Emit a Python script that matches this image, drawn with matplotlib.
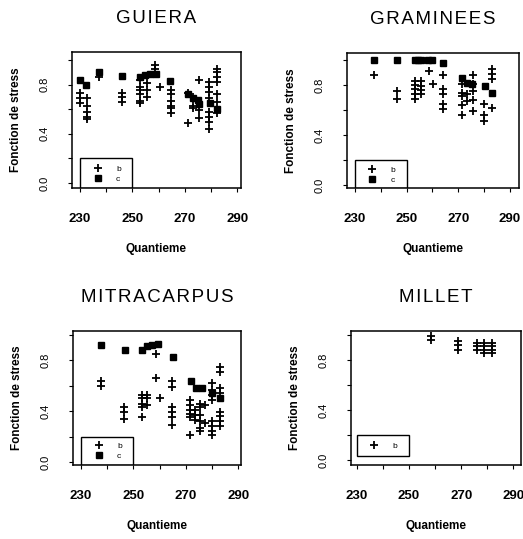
import matplotlib
matplotlib.use("Agg")
import matplotlib.pyplot as plt
from matplotlib.lines import Line2D
from matplotlib.patches import Rectangle

plt.rcParams['font.family'] = ['Liberation Sans', 'DejaVu Sans']

# --- GUIERA ---
guiera_b_x = [230, 230, 230, 232.5, 232.5, 232.5, 232.5, 232.5, 237.3,
              246, 246, 246, 253, 253, 253, 253, 253, 253,
              255.6, 255.6, 255.6, 258.5, 258.5, 260.6,
              264.8, 264.8, 264.8, 264.8, 264.8, 264.8,
              271.4, 271.4, 273.3, 273.3, 273.3, 275.5, 275.5, 275.5,
              279.3, 279.3, 279.3, 279.3, 279.3, 279.3, 279.3, 279.3,
              282.2, 282.2, 282.2, 282.2, 282.2, 282.2, 282.2]
guiera_b_y = [0.73, 0.69, 0.65, 0.69, 0.63, 0.58, 0.54, 0.52, 0.86,
              0.73, 0.70, 0.66, 0.84, 0.78, 0.76, 0.72, 0.67, 0.65,
              0.81, 0.76, 0.70, 0.96, 0.93, 0.78,
              0.76, 0.72, 0.67, 0.63, 0.61, 0.57,
              0.73, 0.49, 0.70, 0.63, 0.61, 0.84, 0.59, 0.53,
              0.82, 0.78, 0.74, 0.69, 0.58, 0.54, 0.50, 0.44,
              0.93, 0.90, 0.86, 0.82, 0.72, 0.66, 0.57]
guiera_c_x = [230, 232.3, 237.3, 246, 252.9, 254.8, 256.7, 259, 264.4,
              271.4, 273.3, 275.2, 275.5, 279.7, 282.2]
guiera_c_y = [0.84, 0.80, 0.90, 0.87, 0.86, 0.88, 0.89, 0.89, 0.83,
              0.72, 0.69, 0.675, 0.64, 0.65, 0.60]

# --- GRAMINEES ---
gram_b_x = [237.5, 246.4, 246.4, 253.3, 253.3, 253.3, 253.3, 253.3,
            255.6, 255.6, 255.6, 255.6, 258.7, 260.3,
            264.2, 264.2, 264.2, 264.2, 264.2,
            271.4, 271.4, 271.4, 271.4, 271.4, 273.3, 273.3,
            275.9, 275.9, 275.9, 275.9, 275.9, 280.1, 280.1, 280.1,
            283, 283, 283, 283]
gram_b_y = [0.88, 0.75, 0.69, 0.83, 0.80, 0.77, 0.73, 0.69,
            0.83, 0.79, 0.76, 0.73, 0.91, 0.81,
            0.88, 0.77, 0.73, 0.65, 0.61,
            0.81, 0.74, 0.71, 0.64, 0.56, 0.73, 0.67,
            0.88, 0.81, 0.75, 0.68, 0.59, 0.65, 0.56, 0.51,
            0.93, 0.89, 0.85, 0.62]
gram_c_x = [237.5, 246.4, 253.3, 254.4, 255.6, 258.3, 259.8, 264.2,
            271.4, 273.3, 275.2, 280.4, 283]
gram_c_y = [1.0, 1.0, 1.0, 1.0, 1.0, 1.0, 1.0, 0.98,
            0.86, 0.82, 0.81, 0.79, 0.74]

# --- MITRACARPUS ---
mitra_b_x = [237.6, 237.6, 246.5, 246.5, 246.5,
             253.2, 253.2, 253.2, 253.2, 253.2, 255.3, 255.3, 255.3,
             258.7, 258.7, 260.3,
             264.7, 264.7, 264.7, 264.7, 264.7, 264.7,
             271.7, 271.7, 271.7, 271.7, 271.7, 271.7,
             273.6, 273.6, 273.6,
             275.5, 275.5, 275.5, 275.5, 275.5, 275.5, 277.4, 277.4,
             279.9, 279.9, 279.9, 279.9, 279.9, 279.9, 279.9, 279.9,
             283.1, 283.1, 283.1, 283.1, 283.1, 283.1, 283.1, 283.1]
mitra_b_y = [0.64, 0.60, 0.43, 0.39, 0.34,
             0.53, 0.50, 0.46, 0.43, 0.35, 0.53, 0.50, 0.45,
             0.85, 0.66, 0.50,
             0.64, 0.59, 0.43, 0.39, 0.35, 0.29,
             0.49, 0.45, 0.41, 0.38, 0.35, 0.21,
             0.41, 0.37, 0.33,
             0.46, 0.43, 0.37, 0.32, 0.27, 0.24, 0.45, 0.31,
             0.62, 0.57, 0.53, 0.49, 0.32, 0.28, 0.24, 0.21,
             0.75, 0.71, 0.58, 0.54, 0.39, 0.36, 0.32, 0.28]
mitra_c_x = [237.6, 246.6, 253.2, 255.1, 257, 259.2, 265,
             271.9, 273.9, 276.1, 280, 283.1]
mitra_c_y = [0.92, 0.88, 0.88, 0.91, 0.92, 0.93, 0.83,
             0.64, 0.58, 0.58, 0.54, 0.50]

# --- MILLET ---
millet_b_x = [258.5, 258.5, 268.7, 268.7, 268.7,
              276, 276, 276, 278.9, 278.9, 278.9, 278.9,
              281.7, 281.7, 281.7, 281.7]
millet_b_y = [0.99, 0.96, 0.95, 0.92, 0.88,
              0.94, 0.91, 0.88, 0.94, 0.91, 0.88, 0.86,
              0.94, 0.91, 0.88, 0.86]
millet_c_x = []
millet_c_y = []

x_ticks = [230, 240, 250, 260, 270, 280, 290]
x_labels = ['230', '', '250', '', '270', '', '290']
y_ticks = [0.0, 0.2, 0.4, 0.6, 0.8, 1.0]
y_labels = ['0.0', '', '0.4', '', '0.8', '']

W, H = 523, 539
fig = plt.figure(figsize=(W / 100, H / 100), dpi=100)


def px_axes(left, top, right, bottom):
   return fig.add_axes([left / W, 1 - bottom / H, (right - left) / W, (bottom - top) / H])


def spaced(word):
   # the scanned titles are letter-spaced
   return '\u200a'.join(word)


panels = [
   # title, box in px, xlim, ylim, b, c, legend box bottom
   ('GUIERA', (72, 52, 241, 188), (226.9, 291.5), (-0.04, 1.065),
    (guiera_b_x, guiera_b_y), (guiera_c_x, guiera_c_y), None),
   ('GRAMINEES', (347, 53, 519, 188), (226.9, 293.6), (-0.024, 1.056),
    (gram_b_x, gram_b_y), (gram_c_x, gram_c_y), None),
   ('MITRACARPUS', (73, 331, 241, 465), (226.9, 291.1), (-0.024, 1.031),
    (mitra_b_x, mitra_b_y), (mitra_c_x, mitra_c_y), None),
   ('MILLET', (351, 331, 521, 465), (227.8, 292.9), (-0.04, 1.032),
    (millet_b_x, millet_b_y), (millet_c_x, millet_c_y), 0.03),
]

for title, box, xlim, ylim, b, c, leg_bottom in panels:
   ax = px_axes(*box)
   ax.plot(b[0], b[1], linestyle='none', marker='+', ms=6, mew=1.3, color='black')
   if len(c[0]) > 0:
      ax.plot(c[0], c[1], linestyle='none', marker='s', ms=5, color='black')
   ax.set_xlim(*xlim)
   ax.set_ylim(*ylim)
   ax.set_xticks(x_ticks)
   ax.set_xticklabels(x_labels, fontsize=9.5, fontweight='bold')
   ax.set_yticks(y_ticks)
   ax.set_yticklabels(y_labels, fontsize=8, rotation=90, va='center')
   ax.tick_params(axis='x', direction='out', length=3, width=0.8, pad=15)
   ax.tick_params(axis='y', direction='out', length=3, width=0.8, pad=13)
   for s in ax.spines.values():
      s.set_linewidth(1.1)
   ax.set_title(spaced(title), fontsize=13.5, pad=21)
   ax.set_xlabel('Quantieme', fontsize=8.5, fontweight='bold', labelpad=13)
   ax.set_ylabel('Fonction de stress', fontsize=8.5, fontweight='bold', labelpad=13)

   # legend box
   bottom = ylim[0] if leg_bottom is None else leg_bottom
   ax.add_patch(Rectangle((230, bottom), 20, 0.2 - bottom, fill=False,
                          edgecolor='black', linewidth=1.0))
   handles = [Line2D([], [], linestyle='none', marker='+', ms=6, mew=1.3, color='black')]
   labels = ['b']
   if len(c[0]) > 0:
      handles.append(Line2D([], [], linestyle='none', marker='s', ms=5, color='black'))
      labels.append('c')
   ax.legend(handles, labels, frameon=False, loc='center',
             bbox_to_anchor=(240.3, (bottom + 0.2) / 2 - 0.005),
             bbox_transform=ax.transData, fontsize=6, handlelength=1,
             handletextpad=1.7, labelspacing=0.25, borderpad=0, borderaxespad=0)

fig.savefig('out.png', dpi=100)
